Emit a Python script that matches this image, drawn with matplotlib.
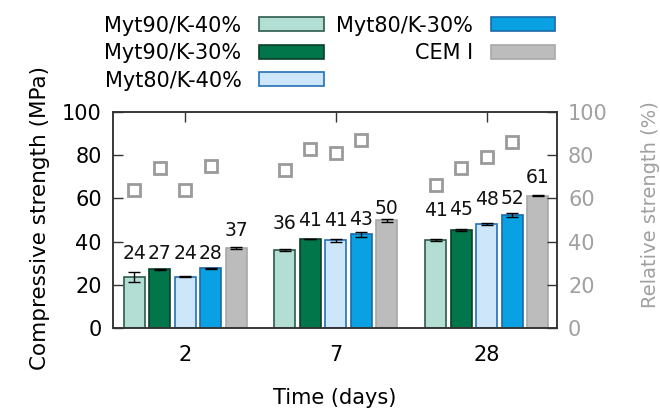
import matplotlib
matplotlib.use("Agg")
import matplotlib.pyplot as plt
import numpy as np

plt.rcParams['font.family'] = ['DejaVu Sans']
plt.rcParams['font.size'] = 15

# Curing ages
days = ['2', '7', '28']
series_names = ['Myt90/K-40%', 'Myt90/K-30%', 'Myt80/K-40%', 'Myt80/K-30%', 'CEM I']

# Compressive strength (MPa) and standard deviation per mix
cs_m90k40 = [23.6, 36.3, 40.6]
cs_m90k30 = [27.2, 41.2, 45.4]
cs_m80k40 = [23.7, 40.6, 48.1]
cs_m80k30 = [27.6, 43.3, 52.4]
cs_cem = [37.0, 49.8, 61.2]

sd_m90k40 = [2.2, 0.5, 0.5]
sd_m90k30 = [0.3, 0.2, 0.3]
sd_m80k40 = [0.3, 0.6, 0.3]
sd_m80k30 = [0.3, 1.3, 0.8]
sd_cem = [0.3, 0.6, 0.3]

# Relative strength with respect to CEM I (%)
rel_m90k40 = [64, 73, 66]
rel_m90k30 = [74, 83, 74]
rel_m80k40 = [64, 81, 79]
rel_m80k30 = [75, 87, 86]

strengths = [cs_m90k40, cs_m90k30, cs_m80k40, cs_m80k30, cs_cem]
deviations = [sd_m90k40, sd_m90k30, sd_m80k40, sd_m80k30, sd_cem]
relatives = [rel_m90k40, rel_m90k30, rel_m80k40, rel_m80k30]

face_colors = ['#b2ded3', '#00764a', '#cde6f9', '#0aa1e2', '#bcbcbc']
edge_colors = ['#2f5a4c', '#0b3f2a', '#2470b8', '#1b6aa8', '#a8a8a8']

# vertical placement of value labels above each bar (data units above bar top)
label_lift = [
    [11.1, 7.5, 11.0, 7.1, 8.0],
    [12.3, 8.8, 9.4, 7.0, 5.6],
    [13.6, 9.6, 11.5, 7.6, 8.6],
]

fig = plt.figure(figsize=(6.6, 4.11), dpi=100)
ax = fig.add_axes([0.1712, 0.2019, 0.6727, 0.5256])
ax2 = ax.twinx()

x = np.arange(len(days))
pitch = 0.169
width = 0.139
handles = []
for i, (vals, errs) in enumerate(zip(strengths, deviations)):
    pos = x + (i - 2) * pitch
    b = ax.bar(pos, vals, width, color=face_colors[i], edgecolor=edge_colors[i],
               linewidth=1.2, label=series_names[i], zorder=2)
    handles.append(b)
    ax.errorbar(pos, vals, yerr=errs, fmt='none', ecolor='black', elinewidth=1,
                capsize=4, capthick=1, zorder=3)
    for j, v in enumerate(vals):
        ax.text(pos[j], v + label_lift[j][i], f'{v:.0f}', ha='center', va='center',
                fontsize=13.5, color='#111111', zorder=4)

for i, rel in enumerate(relatives):
    pos = x + (i - 2) * pitch
    ax2.plot(pos, rel, linestyle='none', marker='s', markersize=8.5,
             markerfacecolor='none', markeredgecolor='#9a9a9a', markeredgewidth=2)

ax.set_xlim(-0.478, 2.466)
ax.set_ylim(0, 100)
ax2.set_ylim(0, 100)
ax.set_xticks(x)
ax.set_xticklabels(days)
ax.set_yticks(np.arange(0, 101, 20))
ax2.set_yticks(np.arange(0, 101, 20))

ax.tick_params(axis='x', direction='in', length=7.5, top=True, width=1,
               pad=12, labelsize=15, color='#333333')
ax.tick_params(axis='y', direction='in', length=7, width=1, pad=8,
               labelsize=15, color='#333333')
ax2.tick_params(axis='y', direction='in', length=7, width=1, pad=8,
                labelsize=15, color='#333333', labelcolor='#a0a0a0')

for a in (ax, ax2):
    for s in a.spines.values():
        s.set_color('#333333')
        s.set_linewidth(1.1)

ax.set_xlabel('Time (days)', fontsize=15, labelpad=17)
ax.set_ylabel('Compressive strength (MPa)', fontsize=15.5, labelpad=9)
ax.yaxis.label.set_y(0.51)
ax2.set_ylabel('Relative strength (%)', fontsize=14, color='#a0a0a0', labelpad=24)
ax2.yaxis.label.set_y(0.57)

fig.legend(handles=handles, labels=series_names, ncol=2, markerfirst=False,
           loc='upper left', bbox_to_anchor=(0.158, 0.962), frameon=False,
           fontsize=15, handlelength=3.1, handleheight=0.67, handletextpad=0.85,
           columnspacing=0.6, labelspacing=0.36, borderaxespad=0.0, borderpad=0.0)

fig.savefig('out.png', dpi=100)
